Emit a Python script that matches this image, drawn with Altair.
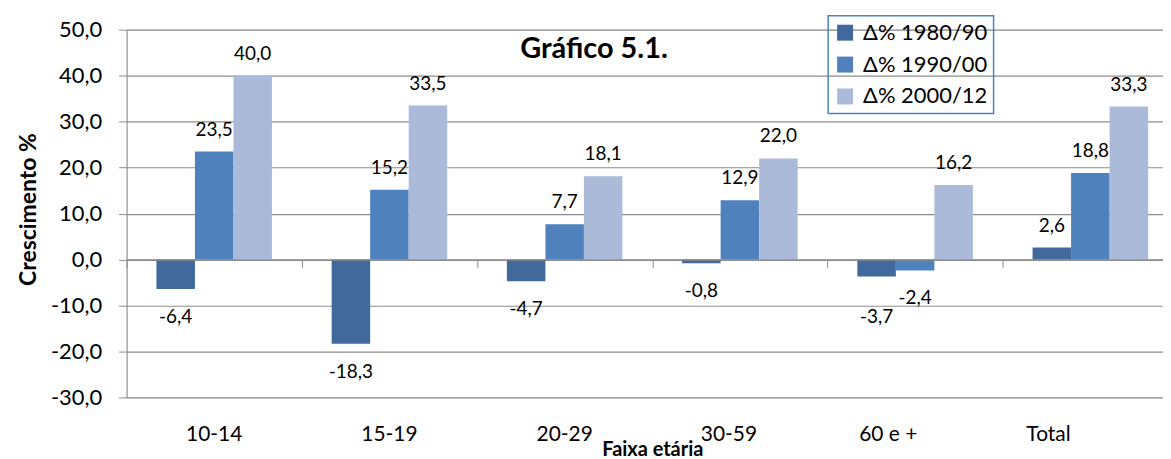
import altair as alt
import pandas as pd

categories = ["10-14", "15-19", "20-29", "30-59", "60 e +", "Total"]
series = ["Δ% 1980/90", "Δ% 1990/00", "Δ% 2000/12"]
d1980_90 = [-6.4, -18.3, -4.7, -0.8, -3.7, 2.6]
d1990_00 = [23.5, 15.2, 7.7, 12.9, -2.4, 18.8]
d2000_12 = [40.0, 33.5, 18.1, 22.0, 16.2, 33.3]
y_ticks = [-30, -20, -10, 0, 10, 20, 30, 40, 50]

rows = []
for s, vals in zip(series, [d1980_90, d1990_00, d2000_12]):
    for c, v in zip(categories, vals):
        rows.append({"cat": c, "series": s, "value": v})
df = pd.DataFrame(rows)

colors = ["#41699B", "#4F81BD", "#AABAD8"]
grey = "#8C8C8C"
FONT = "Lato"

PLOT_W = 1040
PLOT_H = 369
BAND_RANGE = 1055

xscale = alt.Scale(domain=categories, range=[0, BAND_RANGE], paddingInner=0, paddingOuter=0)
xoff = alt.XOffset("series:N", sort=series, scale=alt.Scale(domain=series, paddingOuter=0.775, paddingInner=0))
yscale = alt.Scale(domain=[-30, 50], nice=False, zero=False)

label_expr = "replace(replace(format(datum.value, '.1f'), '.', ','), '\u2212', '-')"

base = alt.Chart(df)

bars = base.mark_bar().encode(
    x=alt.X("cat:N", sort=categories, scale=xscale,
            axis=alt.Axis(title="Faixa  etária", titleFont=FONT, titleFontSize=20, titleFontWeight="bold",
                          titleColor="#000", titleBaseline="middle", titleY=52,
                          labelFont=FONT, labelFontSize=21, labelColor="#000", labelAngle=0,
                          labelPadding=26, domain=False, ticks=False, grid=False,
                          labelOffset={"condition": [
                              {"test": "datum.label == '30-59'", "value": -11},
                              {"test": "datum.label == '60 e +'", "value": -27},
                              {"test": "datum.label == 'Total'", "value": -42}],
                              "value": 0})),
    xOffset=xoff,
    y=alt.Y("value:Q", scale=yscale,
            axis=alt.Axis(values=y_ticks, labelExpr=label_expr, title="Crescimento %",
                          titleFont=FONT, titleFontSize=23, titleFontWeight="bold", titleColor="#000",
                          titleAngle=270, titleX=-98, titleY=180, titleAlign="center", titleBaseline="middle",
                          labelFont=FONT, labelFontSize=22, labelColor="#000", labelPadding=17,
                          tickSize=8, tickColor=grey, domainColor=grey, gridColor=grey, grid=True,
                          gridWidth=1.2)),
    color=alt.Color("series:N", sort=series, scale=alt.Scale(domain=series, range=colors),
                    legend=alt.Legend(title=None, orient="none", legendX=704, legendY=-14,
                                      strokeColor="#4F81BD", padding=6,
                                      symbolType="square", symbolSize=256, symbolStrokeWidth=0,
                                      labelFont=FONT, labelFontSize=22, labelColor="#000",
                                      labelOffset=7, rowPadding=10, labelLimit=300)),
)

zero_axis = alt.Chart(pd.DataFrame({"cat": categories})).mark_point(opacity=0).encode(
    x=alt.X("cat:N", sort=categories, scale=xscale,
            axis=alt.Axis(title=None, labels=False, ticks=True, tickBand="extent", tickSize=8,
                          tickColor=grey, domain=True, domainColor=grey, domainWidth=1.5,
                          grid=False, orient="bottom", offset=-(PLOT_H - 230.6), zindex=1)),
)

def labels(filter_expr, dy):
    return base.transform_filter(filter_expr).transform_calculate(
        lab=label_expr).mark_text(font=FONT, fontSize=19, color="#000", baseline="middle", dy=dy).encode(
        x=alt.X("cat:N", sort=categories, scale=xscale, axis=None),
        xOffset=xoff,
        y=alt.Y("value:Q", scale=yscale),
        text="lab:N",
    )

crowded = f"datum.cat == '{categories[4]}' && datum.series == '{series[0]}'"
pos = labels("datum.value >= 0", -22)
neg = labels(f"datum.value < 0 && !({crowded})", 28)
neg_low = labels(f"datum.value < 0 && ({crowded})", 41)

chart = alt.layer(bars, zero_axis, pos, neg, neg_low).resolve_axis(x="independent").properties(
    width=PLOT_W, height=PLOT_H,
    title=alt.TitleParams("Gráfico 5.1.", font=FONT, fontSize=29, fontWeight="bold", color="#000",
                          anchor="middle", frame="group", dx=-51, dy=63, offset=0, baseline="middle"),
    autosize=alt.AutoSizeParams(type="none"),
    padding={"left": 119, "top": 21, "right": 0, "bottom": 60},
).configure_view(stroke=None).configure(background="white").configure_legend(strokeWidth=1.5)

chart.save("out.html", embed_options={"renderer": "svg", "actions": False})
